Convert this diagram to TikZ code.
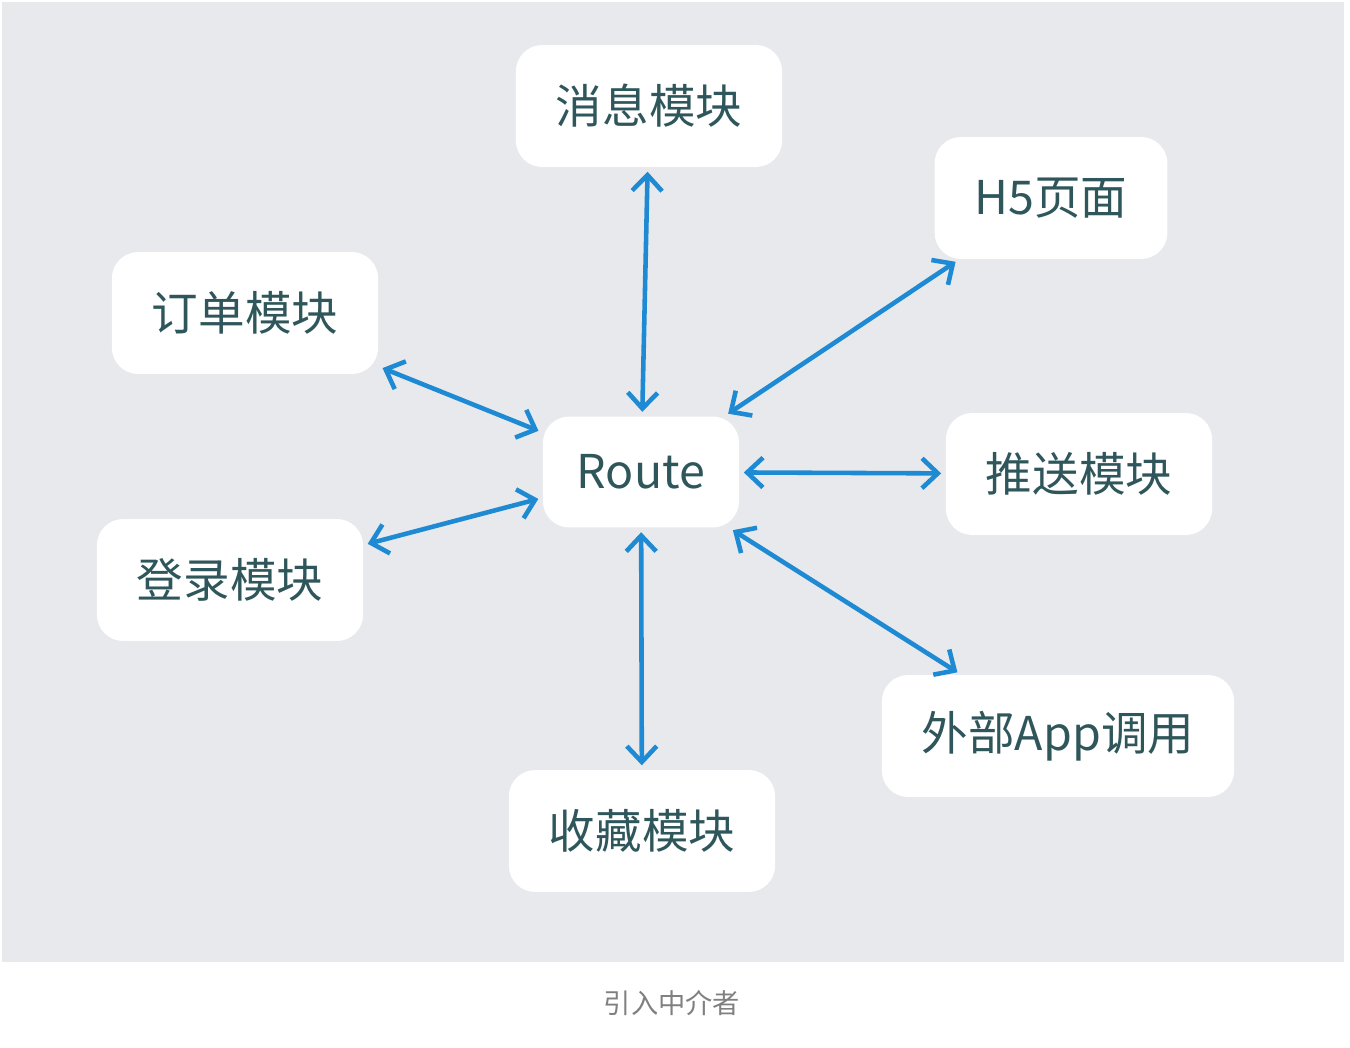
\documentclass[tikz,border=0pt]{standalone}
\usepackage{fontspec}
\setmainfont{Noto Sans CJK SC}
\usetikzlibrary{arrows.meta}
\definecolor{panel}{HTML}{E8E9ED}
\definecolor{label}{HTML}{2F575B}
\definecolor{link}{HTML}{1E8AD3}
\tikzset{
  module/.style={rectangle, rounded corners=15pt, fill=white, text=label,
    font=\fontsize{26.5}{32}\selectfont, inner xsep=0.8cm, minimum height=2.44cm},
  twoway/.style={draw=link, line width=2.6pt, {Straight Barb[length=9pt,width=17pt]}-{Straight Barb[length=9pt,width=17pt]},
    shorten <=2.5pt, shorten >=2.5pt}
}
\begin{document}
\begin{tikzpicture}[x=0.02cm,y=-0.02cm]
  \useasboundingbox (0,0) rectangle (1350,1048);
  \fill[panel] (2,2) rectangle (1344,962);
  % the modules
  \node[module] (route) at (641,472) [minimum height=2.22cm, inner xsep=0.68cm] {Route};
  \node[module] (msg) at (649,106) {消息模块};
  \node[module] (hfive) at (1051,198) {H5页面};
  \node[module] (order) at (245,313) {订单模块};
  \node[module] (push) at (1079,474) {推送模块};
  \node[module] (login) at (230,580) {登录模块};
  \node[module] (app) at (1058,736) {外部App调用};
  \node[module] (fav) at (642,831) {收藏模块};
  % links to the route
  \foreach \m in {msg,hfive,order,push,login,app,fav}
    \draw[twoway] (route) -- (\m);
  \node[text=gray, font=\fontsize{15.5}{18}\selectfont] (caption) at (672,1003) {引入中介者};
\end{tikzpicture}
\end{document}
